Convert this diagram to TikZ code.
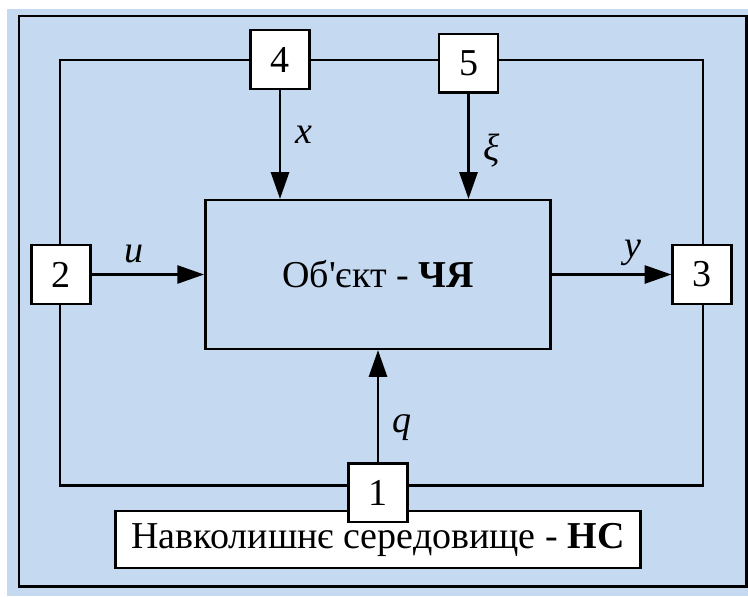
\documentclass[tikz,border=0pt]{standalone}
\usepackage{fontspec}
\setmainfont{Liberation Serif}[Ligatures=TeXOff]
\usetikzlibrary{arrows.meta}
\definecolor{bgblue}{RGB}{197,217,241}
\tikzset{
  blok/.style={draw,fill=white,minimum width=44pt,minimum height=44pt,inner sep=0pt},
  arr/.style={-{Triangle[length=20pt,width=13.5pt]}},
  lbl/.style={inner sep=0pt,font=\fontsize{28.5}{34}\selectfont\itshape},
}
\begin{document}
\begin{tikzpicture}[x=0.75pt,y=-0.75pt,line width=1.9pt,font=\fontsize{28.5}{34}\selectfont]
\useasboundingbox (0,0) rectangle (748,596);
\fill[bgblue] (7,9) rectangle (748,596);
\draw (19,16) rectangle (746.5,586.5);
% контур зв'язку
\coordinate (lt) at (60,60);
\coordinate (rb) at (703,485.5);
\draw (lt) rectangle (rb);
\node[draw,fill=bgblue,minimum width=259pt,minimum height=111.5pt] (obj) at (378,274.5) {Об'єкт - \textbf{ЧЯ}};
\node[draw,fill=white,minimum width=394pt,minimum height=43pt] (nc) at (378,539.5) {Навколишнє середовище - \textbf{НС}};
\node[blok] (b1) at (378,492.7) {1};
\node[blok] (b2) at (61,274.5) {2};
\node[blok] (b3) at (702,274.5) {3};
\node[blok] (b4) at (280,59.5) {4};
\node[blok] (b5) at (468.5,63.3) {5};
% входи та виходи
\draw[arr] (b2.east) -- (obj.west) node[lbl,above=8pt,pos=.38]{u};
\draw[arr] (obj.east) -- (b3.west) node[lbl,above=5.5pt,pos=.68]{y};
\draw[arr] (b4.south) -- (obj.north -| b4) node[lbl,right=11pt,pos=.41]{x};
\draw[arr] (b5.south) -- (obj.north -| b5) node[lbl,right=10.5pt,pos=.54]{ξ};
\draw[arr] (b1.north) -- (obj.south) node[lbl,right=10pt,pos=.31]{q};
\end{tikzpicture}
\end{document}
